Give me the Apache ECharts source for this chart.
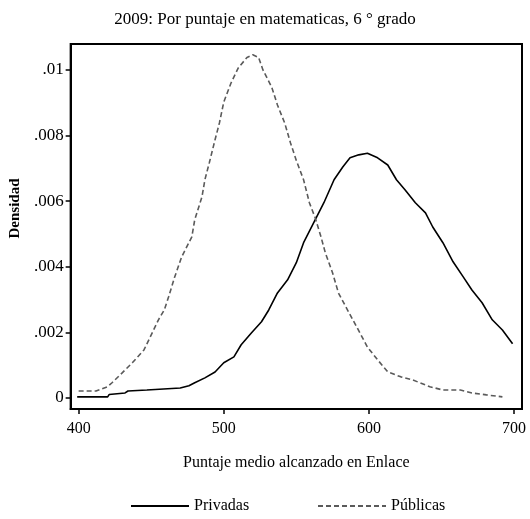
<!DOCTYPE html>
<html><head><meta charset="utf-8">
<script src="https://cdn.jsdelivr.net/npm/echarts@6/dist/echarts.min.js"></script>
<style>html,body{margin:0;padding:0;background:#fff}#c{width:530px;height:519px}</style>
</head><body><div id="c"></div>
<script>
const titleText = '2009: Por puntaje en matematicas, 6 ° grado';
const xName = 'Puntaje medio alcanzado en Enlace';
const yName = 'Densidad';
const xTicks = [400, 500, 600, 700];
const yTicks = [0, 0.002, 0.004, 0.006, 0.008, 0.01];

const privScore = [399, 420, 421, 432, 434, 447, 470, 471, 476, 480, 487, 494, 500, 507, 512, 519, 526, 531, 537, 544, 550, 555, 562, 569, 576, 582, 587, 593, 599, 606, 613, 619, 625, 632, 639, 644, 651, 658, 665, 671, 678, 685, 692, 699];
const privDens  = [0.00003, 0.00003, 0.0001, 0.00015, 0.00021, 0.00024, 0.0003, 0.00034, 0.00037, 0.00046, 0.00061, 0.00079, 0.00107, 0.00125, 0.00162, 0.00198, 0.00232, 0.00268, 0.0032, 0.0036, 0.00412, 0.00473, 0.00534, 0.00595, 0.00665, 0.00704, 0.00732, 0.00741, 0.00746, 0.00732, 0.0071, 0.00665, 0.00634, 0.00595, 0.00564, 0.00521, 0.00473, 0.00415, 0.00369, 0.00329, 0.0029, 0.00238, 0.00207, 0.00165];

const pubScore = [400, 412, 420, 423, 430, 437, 445, 451, 455, 459, 462, 466, 471, 478, 480, 485, 487, 490, 494, 497, 500, 505, 510, 516, 520, 524, 527, 533, 537, 542, 546, 550, 555, 559, 563, 567, 570, 575, 579, 586, 592, 599, 606, 613, 622, 630, 642, 651, 663, 671, 681, 692];
const pubDens  = [0.00021, 0.00021, 0.00034, 0.00046, 0.00076, 0.00107, 0.00146, 0.00201, 0.00238, 0.00268, 0.00308, 0.00366, 0.0043, 0.00491, 0.00543, 0.00613, 0.00665, 0.00716, 0.00787, 0.00838, 0.00902, 0.0096, 0.01006, 0.01038, 0.01046, 0.01038, 0.0100, 0.00948, 0.00893, 0.00838, 0.00777, 0.00724, 0.00665, 0.00595, 0.00549, 0.00491, 0.00442, 0.00381, 0.0032, 0.00262, 0.00213, 0.00155, 0.00116, 0.00079, 0.00064, 0.00055, 0.00034, 0.00024, 0.00024, 0.00015, 0.00009, 0.00003];

const serif = '"Liberation Serif", "DejaVu Serif", serif';
const pair = (xs, ys) => xs.map((x, i) => [x, ys[i]]);

const chart = echarts.init(document.getElementById('c'), null, {renderer: 'canvas'});
chart.setOption({
  backgroundColor: '#fff',
  animation: false,
  title: {text: titleText, left: 'center', top: 6, textStyle: {fontFamily: serif, fontSize: 17, fontWeight: 'normal', color: '#000'}},
  grid: {left: 68, right: 8, top: 44, bottom: 110, show: true, borderColor: '#000', borderWidth: 2},
  legend: [
    {data: ['Privadas'], left: 125, top: 493, itemWidth: 58, itemHeight: 12, itemGap: 8,
     itemStyle: {opacity: 0}, textStyle: {fontFamily: serif, fontSize: 16, color: '#000'}},
    {data: ['Públicas'], left: 312, top: 493, itemWidth: 68, itemHeight: 12, itemGap: 8,
     itemStyle: {opacity: 0}, textStyle: {fontFamily: serif, fontSize: 16, color: '#000'}}
  ],
  xAxis: {
    type: 'value', min: 394.5, max: 705.5,
    name: xName, nameLocation: 'middle', nameGap: 46,
    nameTextStyle: {fontFamily: serif, fontSize: 16, color: '#000'},
    axisLine: {show: true, onZero: false, lineStyle: {color: '#000', width: 2}},
    axisTick: {show: true, length: 5, customValues: xTicks, lineStyle: {color: '#000', width: 1.5}},
    axisLabel: {customValues: xTicks, fontFamily: serif, fontSize: 16, color: '#000', margin: 12},
    splitLine: {show: false}
  },
  yAxis: {
    type: 'value', min: -0.00034, max: 0.01079,
    name: yName, nameLocation: 'middle', nameGap: 42, nameRotate: 90,
    nameTextStyle: {fontFamily: serif, fontSize: 15, fontWeight: 'bold', color: '#000', padding: [0, 0, 0, 36]},
    axisLine: {show: true, onZero: false, lineStyle: {color: '#000', width: 2}},
    axisTick: {show: true, length: 5, customValues: yTicks, lineStyle: {color: '#000', width: 1.5}},
    axisLabel: {customValues: yTicks, fontFamily: serif, fontSize: 17, color: '#000', margin: 7,
      formatter: v => v === 0 ? '0' : String(+v.toFixed(4)).replace(/^0/, '')},
    splitLine: {show: false}
  },
  series: [
    {name: 'Privadas', type: 'line', data: pair(privScore, privDens), symbol: 'none', smooth: false,
     lineStyle: {color: '#000', width: 1.6}, itemStyle: {color: '#000'}},
    {name: 'Públicas', type: 'line', data: pair(pubScore, pubDens), symbol: 'none', smooth: false,
     lineStyle: {color: '#5a5a5a', width: 1.6, type: [5, 3]}, itemStyle: {color: '#5a5a5a'}}
  ]
});
</script></body></html>
